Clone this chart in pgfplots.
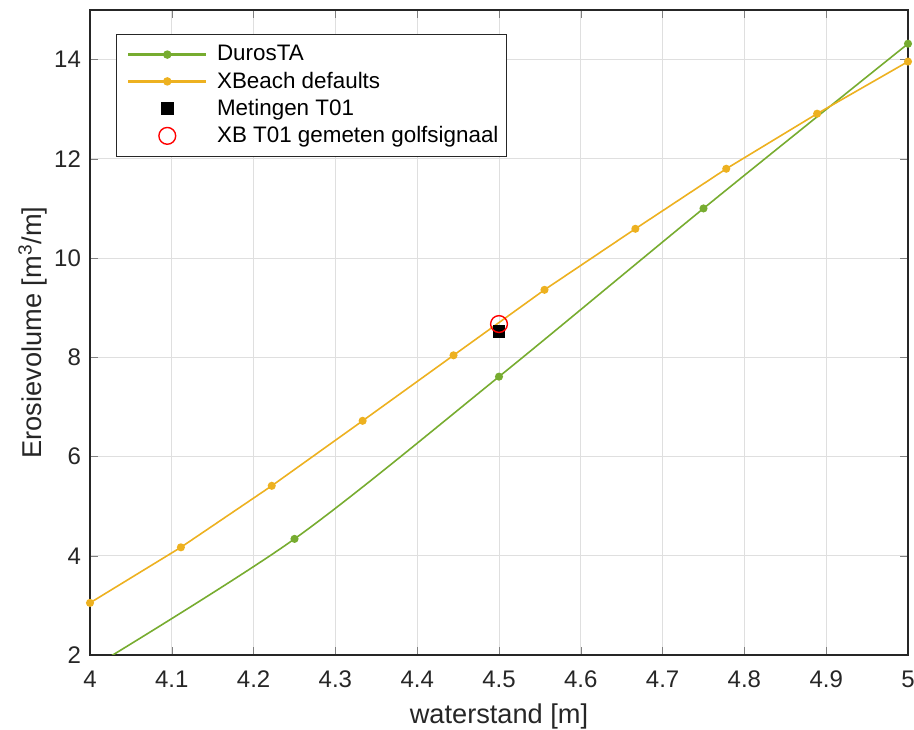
\documentclass[border=0pt]{standalone}
\usepackage{fontspec}
\setmainfont{Liberation Sans}
\usepackage{pgfplots}
\pgfplotsset{compat=1.18}
\definecolor{mgreen}{RGB}{119,172,48}
\definecolor{myellow}{RGB}{237,177,32}
\definecolor{axgray}{RGB}{38,38,38}
\begin{document}
\begin{tikzpicture}
\begin{axis}[
  name=main,
  scale only axis,
  width=409pt, height=322.5pt,
  xmin=4, xmax=5, ymin=2, ymax=15,
  xtick={4,4.1,...,5.01},
  ytick={2,4,...,14},
  xticklabels={4,4.1,4.2,4.3,4.4,4.5,4.6,4.7,4.8,4.9,5},
  /pgf/number format/assume math mode=true,
  tick label style={font=\fontsize{12}{14}\selectfont, color=axgray},
  xticklabel style={yshift=-4.5pt},
  yticklabel style={xshift=-1pt},
  label style={font=\fontsize{13.6}{15}\selectfont, color=axgray},
  xlabel={waterstand [m]},
  ylabel={Erosievolume [m\textsuperscript{3}/m]},
  xlabel style={at={([yshift=-34.5pt]axis description cs:0.5,0)}, anchor=base},
  ylabel style={at={([xshift=-24pt]axis description cs:0,0.5)}, anchor=base},
  tick align=inside,
  major tick length=4pt,
  axis line style={axgray, line width=0.6pt},
  grid=major,
  grid style={gray!25, line width=0.5pt},
  legend style={at={(0.0318,0.9628)}, anchor=north west, draw=axgray,
    font=\fontsize{11.2}{13.8}\selectfont, row sep=0pt, inner xsep=2pt, inner ysep=3.5pt,
    legend cell align=left},
  every axis plot/.append style={line width=0.8pt},
]
\addplot[mgreen, smooth, mark=*, mark size=1.6pt,
  legend image code/.code={\path (0cm,0cm) (1.6cm,0cm);
    \fill[mgreen] (0.14cm,-0.55pt) rectangle (1.48cm,0.55pt);
    \fill[mgreen] (0.81cm,0cm) circle (1.7pt);}] coordinates {
 (4.0,1.72) (4.25,4.34) (4.5,7.61) (4.75,11.0) (5.0,14.32)
};
\addlegendentry{DurosTA}
\addplot[myellow, mark=*, mark size=1.6pt,
  legend image code/.code={\path (0cm,0cm) (1.6cm,0cm);
    \fill[myellow] (0.14cm,-0.55pt) rectangle (1.48cm,0.55pt);
    \fill[myellow] (0.81cm,0cm) circle (1.7pt);}] coordinates {
 (4.0,3.05) (4.1111,4.17) (4.2222,5.41) (4.3333,6.72) (4.4444,8.04)
 (4.5556,9.36) (4.6667,10.59) (4.7778,11.80) (4.8889,12.91) (5.0,13.96)
};
\addlegendentry{XBeach defaults}
\addplot[black, only marks, mark=square*, mark size=2.8pt, legend image code/.code={\path (0cm,0cm) (1.6cm,0cm); \fill[black] (0.71cm,-0.1cm) rectangle (0.91cm,0.1cm);}] coordinates {(4.5,8.52)};
\addlegendentry{Metingen T01}
\addplot[red, only marks, mark=o, mark size=4.2pt, line width=0.7pt, legend image code/.code={\path (0cm,0cm) (1.6cm,0cm); \draw[red, line width=0.7pt] (0.81cm,0cm) circle (4.2pt);}] coordinates {(4.5,8.67)};
\addlegendentry{XB T01 gemeten golfsignaal}
\end{axis}
\pgfresetboundingbox
\useasboundingbox ([xshift=-45pt,yshift=-37.5pt]main.south west) rectangle ([xshift=3pt,yshift=5pt]main.north east);
\end{tikzpicture}
\end{document}
